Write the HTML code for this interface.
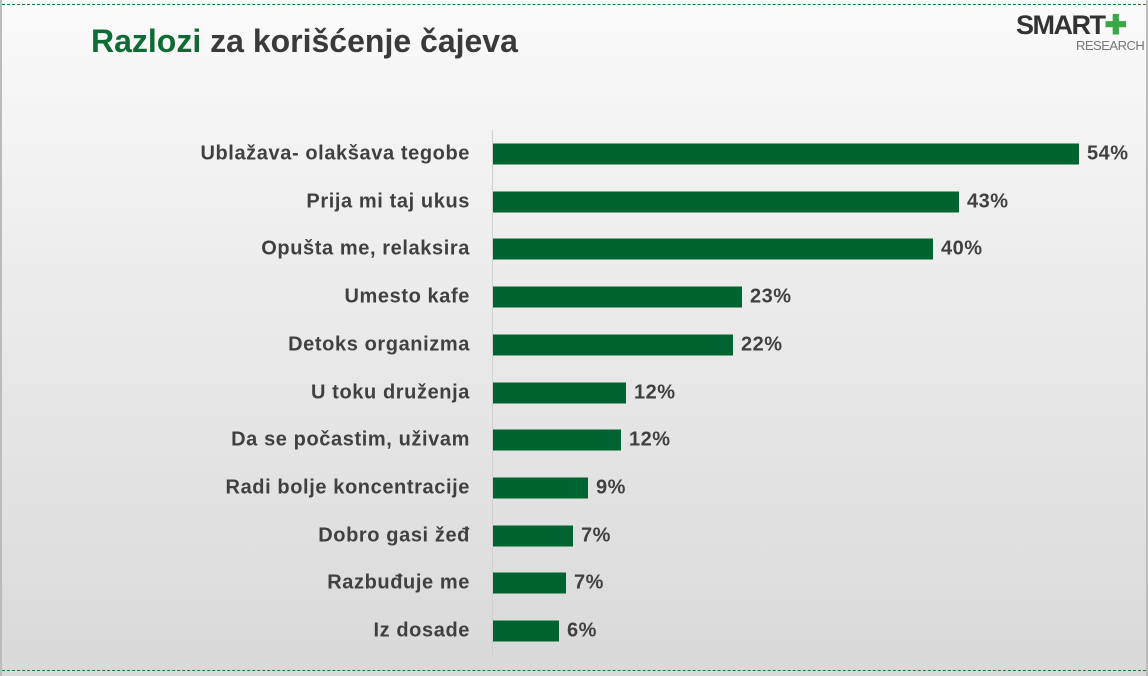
<!DOCTYPE html>
<html><head><meta charset="utf-8"><style>
body{margin:0;width:1148px;height:676px;overflow:hidden;font-family:"Liberation Sans",sans-serif;}
.bg{position:absolute;left:0;top:0;width:1148px;height:676px;background:linear-gradient(#fbfbfb,#f3f3f3 20%,#d9d9d9);}
.dash{position:absolute;left:2px;right:2px;height:0;border-top:1.5px dashed #1e7a3a;}
.lab{position:absolute;right:678px;font-weight:bold;font-size:20px;letter-spacing:0.6px;color:#404040;white-space:nowrap;transform:translateY(-50%);}
.bar{position:absolute;left:493px;height:21px;background:#006430;transform:translateY(-50%);}
.val{position:absolute;font-weight:bold;font-size:20px;letter-spacing:0.5px;color:#404040;transform:translateY(-50%);}
</style></head><body>
<div class="bg"></div>
<div style="position:absolute;left:0;top:0;width:2px;height:676px;background:#bbb"></div>
<div style="position:absolute;right:0;top:0;width:2px;height:676px;background:#bbb"></div>
<div class="dash" style="top:4px"></div>
<div class="dash" style="top:670px"></div>
<div style="position:absolute;left:91px;top:23px;font-size:32px;font-weight:bold;color:#3a3a3a">
<span style="color:#0e6b35">Razlozi</span> za korišćenje čajeva</div>
<div style="position:absolute;left:1016px;top:10px;font-size:27px;font-weight:bold;color:#333;letter-spacing:-1.5px">SMART<span style="color:#3aa845">✚</span></div>
<div style="position:absolute;left:1076px;top:38px;font-size:13px;color:#777;letter-spacing:-0.5px">RESEARCH</div>
<div style="position:absolute;left:492px;top:130px;width:1px;height:526px;background:#d0d0d0"></div>
<div id="c"></div>
<script>
var d=[["Ublažava- olakšava tegobe",54,1079],["Prija mi taj ukus",43,959],["Opušta me, relaksira",40,933],["Umesto kafe",23,742],["Detoks organizma",22,733],["U toku druženja",12,626],["Da se počastim, uživam",12,621],["Radi bolje koncentracije",9,588],["Dobro gasi žeđ",7,573],["Razbuđuje me",7,566],["Iz dosade",6,559]];
var h="";d.forEach(function(r,i){var y=154+i*47.7;var w=r[2]-493;
h+='<div class="lab" style="top:'+y+'px">'+r[0]+'</div><div class="bar" style="top:'+y+'px;width:'+w+'px"></div><div class="val" style="top:'+y+'px;left:'+(493+w+8)+'px">'+r[1]+'%</div>';});
document.getElementById("c").innerHTML=h;
</script>
</body></html>
